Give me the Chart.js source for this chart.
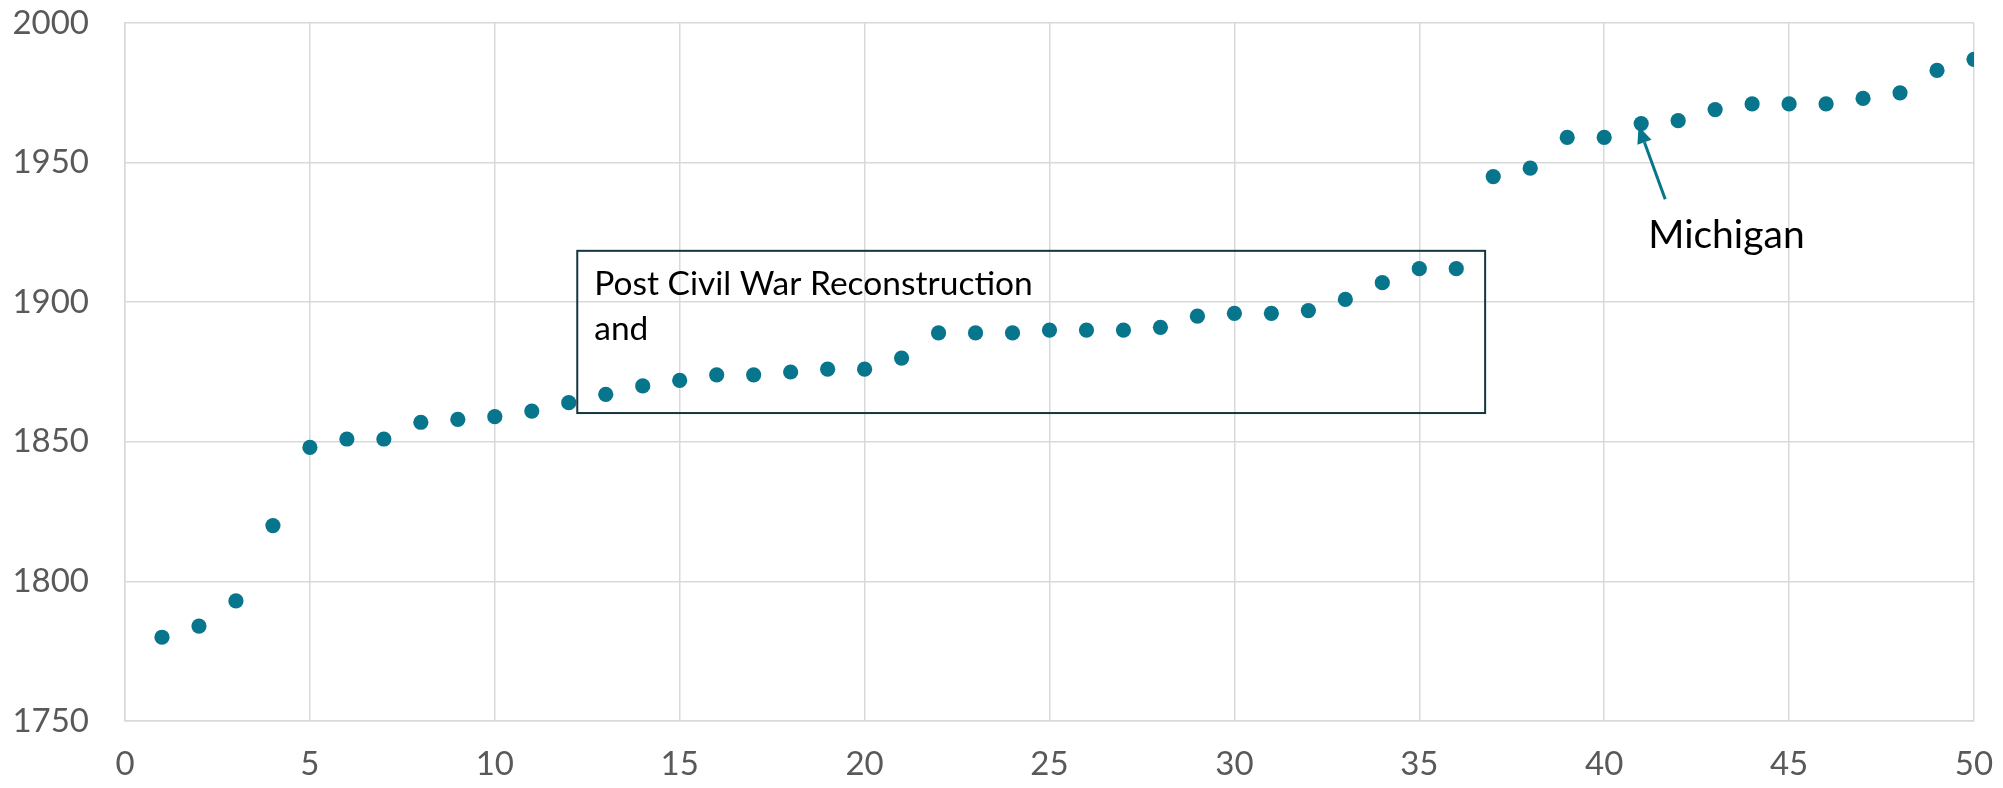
<!DOCTYPE html>
<html>
<head>
<meta charset="utf-8">
<script src="https://cdn.jsdelivr.net/npm/chart.js@4/dist/chart.umd.min.js"></script>
<style>
  html, body { margin: 0; padding: 0; background: #ffffff; }
  #wrap { width: 2003px; height: 788px; }
</style>
</head>
<body>
<div id="wrap"><canvas id="c" width="2003" height="788"></canvas></div>
<script>
// ---- data ----
const stateOrder = [1,2,3,4,5,6,7,8,9,10,11,12,13,14,15,16,17,18,19,20,21,22,23,24,25,
                    26,27,28,29,30,31,32,33,34,35,36,37,38,39,40,41,42,43,44,45,46,47,48,49,50];
const years = [1780,1784,1793,1820,1848,1851,1851,1857,1858,1859,1861,1864,1867,1870,1872,
               1874,1874,1875,1876,1876,1880,1889,1889,1889,1890,1890,1890,1891,1895,1896,
               1896,1897,1901,1907,1912,1912,1945,1948,1959,1959,1964,1965,1969,1971,1971,
               1971,1973,1975,1983,1987];
const xTicks = [0,5,10,15,20,25,30,35,40,45,50];
const yTicks = [1750,1800,1850,1900,1950,2000];
const boxLines = ["Post Civil War Reconstruction", "and"];
const calloutLabel = "Michigan";

const teal = '#07758B';
const gridColor = '#d9d9d9';
const tickColor = '#595959';
const fontFam = 'Lato, "Open Sans", sans-serif';

const points = stateOrder.map((s, i) => ({ x: s, y: years[i] }));

const annotationPlugin = {
  id: 'annots',
  afterDraw(chart) {
    const ctx = chart.ctx;
    const xs = chart.scales.x, ys = chart.scales.y;
    ctx.save();
    // box
    const bl = xs.getPixelForValue(12.23), br = xs.getPixelForValue(36.78);
    const bt = ys.getPixelForValue(1918.4), bb = ys.getPixelForValue(1860.3);
    ctx.strokeStyle = '#13363f';
    ctx.lineWidth = 2;
    ctx.strokeRect(bl, bt, br - bl, bb - bt);
    ctx.fillStyle = '#000000';
    ctx.font = '33.5px ' + fontFam;
    ctx.textAlign = 'left';
    ctx.textBaseline = 'alphabetic';
    ctx.fillText(boxLines[0], bl + 17, bt + 44.5);
    ctx.fillText(boxLines[1], bl + 17, bt + 89.5);
    // callout
    ctx.font = '39px ' + fontFam;
    ctx.fillText(calloutLabel, xs.getPixelForValue(41.19), ys.getPixelForValue(1919.4));
    // arrow
    const tx = xs.getPixelForValue(41.65), ty = ys.getPixelForValue(1936.9);
    const hx = xs.getPixelForValue(40.93), hy = ys.getPixelForValue(1963.0);
    const ang = Math.atan2(hy - ty, hx - tx);
    const headLen = 17, headW = 7.5;
    const bx = hx - headLen * Math.cos(ang), by = hy - headLen * Math.sin(ang);
    ctx.strokeStyle = teal;
    ctx.fillStyle = teal;
    ctx.lineWidth = 3;
    ctx.beginPath();
    ctx.moveTo(tx, ty);
    ctx.lineTo(bx, by);
    ctx.stroke();
    ctx.beginPath();
    ctx.moveTo(hx, hy);
    ctx.lineTo(bx + headW * Math.sin(ang), by - headW * Math.cos(ang));
    ctx.lineTo(bx - headW * Math.sin(ang), by + headW * Math.cos(ang));
    ctx.closePath();
    ctx.fill();
    ctx.restore();
  }
};

function zeroPad(scale) {
  scale.paddingTop = 0; scale.paddingBottom = 0;
  scale.paddingLeft = 0; scale.paddingRight = 0;
}

new Chart(document.getElementById('c'), {
  type: 'scatter',
  data: {
    datasets: [{
      data: points,
      backgroundColor: teal,
      borderColor: teal,
      borderWidth: 0,
      pointRadius: 7.6,
      pointHoverRadius: 7.6
    }]
  },
  options: {
    responsive: false,
    animation: false,
    devicePixelRatio: 1,
    layout: { padding: { left: 0, right: 29, top: 23, bottom: 0 } },
    plugins: { legend: { display: false }, tooltip: { enabled: false } },
    scales: {
      x: {
        type: 'linear',
        min: 0, max: 50,
        afterBuildTicks(scale) { scale.ticks = xTicks.map(v => ({ value: v })); },
        afterFit(scale) { scale.height = 67; zeroPad(scale); },
        grid: { color: gridColor, lineWidth: 1.5, drawTicks: false },
        border: { color: gridColor, width: 1.5 },
        ticks: { color: tickColor, font: { family: fontFam, size: 33 }, padding: 24, maxRotation: 0,
                 callback: v => String(v) }
      },
      y: {
        type: 'linear',
        min: 1750, max: 2000,
        afterBuildTicks(scale) { scale.ticks = yTicks.map(v => ({ value: v })); },
        afterFit(scale) { scale.width = 125; zeroPad(scale); },
        grid: { color: gridColor, lineWidth: 1.5, drawTicks: false },
        border: { color: gridColor, width: 1.5 },
        ticks: { color: tickColor, font: { family: fontFam, size: 33 }, padding: 36,
                 callback: v => String(v) }
      }
    }
  },
  plugins: [annotationPlugin]
});
</script>
</body>
</html>
